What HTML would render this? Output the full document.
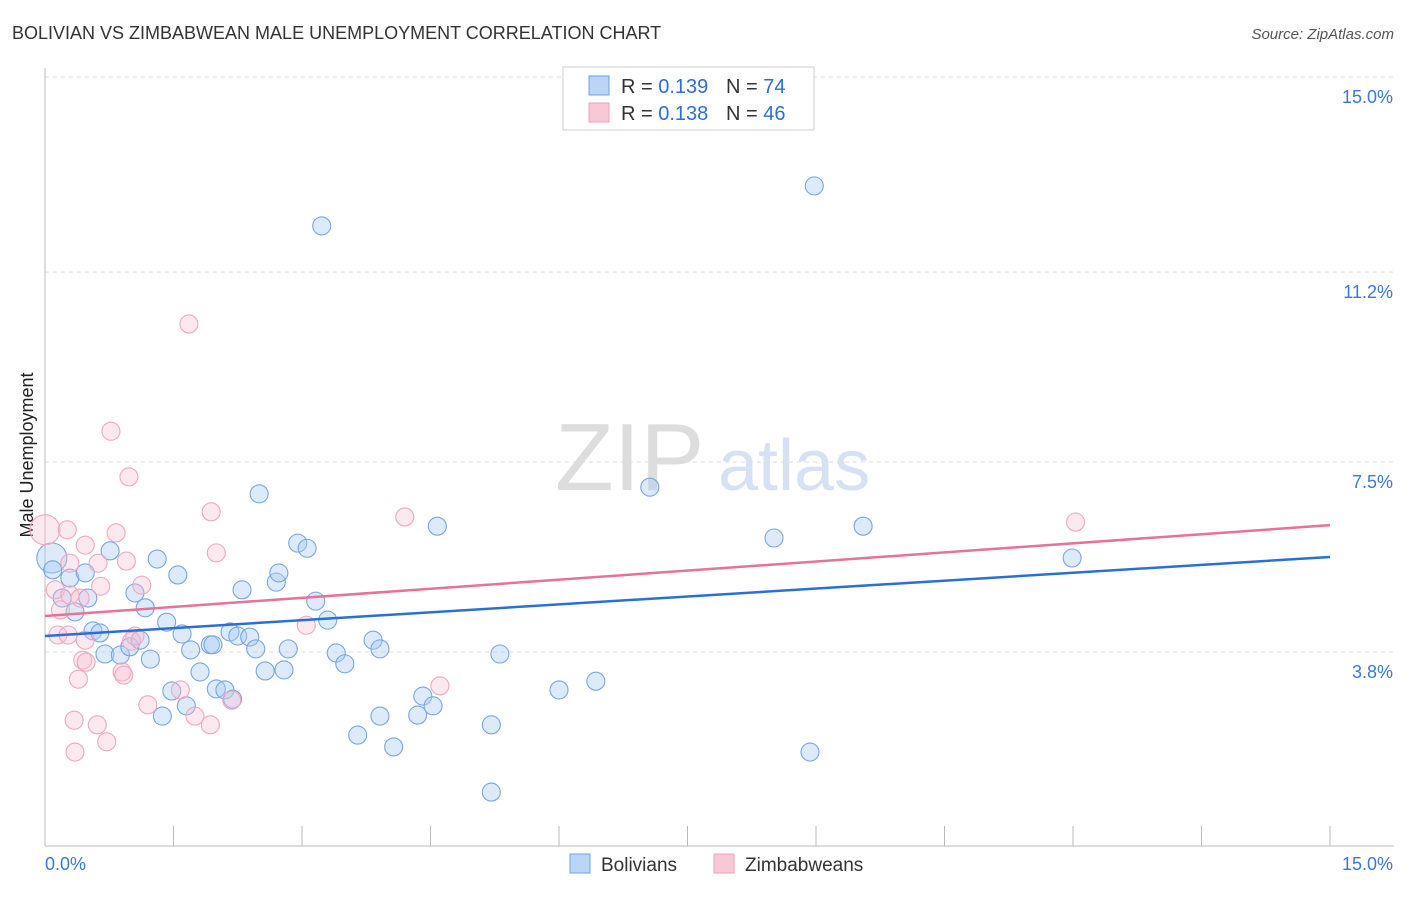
<!DOCTYPE html>
<html><head><meta charset="utf-8"><style>
body{margin:0;background:#fff;font-family:"Liberation Sans",sans-serif;}
svg text{font-family:"Liberation Sans",sans-serif;}
</style></head><body>
<svg id="chart" width="1406" height="892" viewBox="0 0 1406 892" xmlns="http://www.w3.org/2000/svg">
<text x="12" y="39" font-size="18" fill="#333">BOLIVIAN VS ZIMBABWEAN MALE UNEMPLOYMENT CORRELATION CHART</text>
<text x="1394" y="39" font-size="15" fill="#555" font-style="italic" text-anchor="end">Source: ZipAtlas.com</text>
<text transform="translate(33,455) rotate(-90)" font-size="18" fill="#222" text-anchor="middle">Male Unemployment</text>
<g>
<text x="555" y="490" font-size="96" fill="#ddd" font-family="Liberation Serif,serif">ZIP</text>
<text x="718" y="490" font-size="72" fill="#d6e2f3">atlas</text>
</g>
<g id="grid"></g><g id="axes"></g><g id="marks"></g>
<g>
<rect x="563" y="67" width="251" height="63" fill="#fff" stroke="#ccc"/>
<rect x="589" y="76" width="20" height="19" fill="#bcd4f5" stroke="#6fa0e0"/>
<text x="621" y="93" font-size="20" fill="#333">R = <tspan fill="#2a6fd6">0.139</tspan></text>
<text x="726" y="93" font-size="20" fill="#333">N = <tspan fill="#2a6fd6">74</tspan></text>
<rect x="589" y="103" width="20" height="19" fill="#f8c8d6" stroke="#eea0b8"/>
<text x="621" y="120" font-size="20" fill="#333">R = <tspan fill="#2a6fd6">0.138</tspan></text>
<text x="726" y="120" font-size="20" fill="#333">N = <tspan fill="#2a6fd6">46</tspan></text>
</g>
<g>
<rect x="570" y="854" width="20" height="19" fill="#bcd4f5" stroke="#6fa0e0"/>
<text x="601" y="871" font-size="19" fill="#333">Bolivians</text>
<rect x="714" y="854" width="20" height="19" fill="#f8c8d6" stroke="#eea0b8"/>
<text x="745" y="871" font-size="19" fill="#333">Zimbabweans</text>
</g>
</svg>
<script>
const yTicks=[3.8,7.5,11.2,15.0];
const yTickLabels=["3.8%","7.5%","11.2%","15.0%"];
const xTickLabels=["0.0%","15.0%"];
const bolX=[.08,.09,.29,.47,.20,.50,.35,.76,.56,.64,.70,.88,.99,1.11,1.05,1.17,1.23,1.31,1.42,1.55,1.60,1.48,1.65,1.37,1.70,1.81,1.93,1.96,2.00,2.10,2.16,2.19,2.30,2.25,2.39,2.46,2.50,2.57,2.70,2.73,2.79,2.84,2.95,3.06,3.16,3.30,3.40,3.50,3.23,3.65,3.83,3.91,3.91,4.07,4.35,4.41,4.53,4.58,5.21,5.21,5.31,6.00,6.43,7.06,8.51,8.98,8.93,9.55,11.99];
const bolY=[5.63,5.40,5.24,5.34,4.85,4.85,4.58,5.77,4.21,4.17,3.76,3.74,3.90,4.03,4.95,4.66,3.66,5.61,4.38,5.30,4.15,3.04,2.75,2.55,3.84,3.41,3.94,3.94,3.08,3.06,4.19,2.88,5.01,4.11,4.09,3.86,6.88,3.43,5.16,5.34,3.45,3.86,5.92,5.82,4.79,4.42,3.78,3.57,12.10,2.18,4.03,3.86,2.55,1.95,2.57,2.94,2.75,6.25,2.38,1.07,3.76,3.06,3.23,7.01,6.02,12.88,1.85,6.25,5.63];
const zimX=[.00,.26,.47,.29,.62,.12,.18,.29,.41,.15,.27,.47,.44,.48,.39,.34,.35,.61,.72,.65,.83,.95,.77,.98,1.13,1.01,1.05,.90,.92,1.20,1.58,1.75,1.93,2.18,1.68,1.94,2.00,3.05,4.20,4.61,12.03];
const zimY=[6.18,6.18,5.88,5.53,5.53,5.01,4.62,4.91,4.85,4.13,4.13,4.03,3.64,3.60,3.27,2.47,1.85,2.38,2.05,5.08,6.12,5.57,8.10,7.21,5.10,4.01,4.11,3.41,3.35,2.77,3.06,2.55,2.38,2.86,10.19,6.53,5.73,4.32,6.43,3.14,6.33];
const bolTrend=[4.11,5.65];
const zimTrend=[4.50,6.27];
const NS="http://www.w3.org/2000/svg";
const X0=45,X1=1330,Y0=847,YPX=51.33;
function sx(v){return X0+(X1-X0)*v/15;}
function sy(v){return Y0-v*YPX;}
function mk(tag,attrs,parent){const e=document.createElementNS(NS,tag);for(const k in attrs)e.setAttribute(k,attrs[k]);parent.appendChild(e);return e;}
const grid=document.getElementById('grid'),axes=document.getElementById('axes'),marks=document.getElementById('marks');
yTicks.forEach((t,i)=>{
 const l=mk('line',{x1:45,x2:1394,y1:sy(t),y2:sy(t),stroke:'#ddd','stroke-dasharray':'4,4'},grid);
 
 
 const tx=mk('text',{x:1393,y:sy(t)+26,'font-size':18,fill:'#3a78d8','text-anchor':'end'},axes);
 tx.textContent=yTickLabels[i];
 
 
});
const ax=mk('line',{x1:45,x2:1394,y1:846,y2:846,stroke:'#bbb'},axes);


const ay=mk('line',{x1:45,x2:45,y1:68,y2:846,stroke:'#bbb'},axes);


for(let i=1;i<=10;i++){
 const t=mk('line',{x1:sx(i*1.5),x2:sx(i*1.5),y1:826,y2:846,stroke:'#bbb'},axes);
 
 
}
const xl0=mk('text',{x:45,y:870,'font-size':18,fill:'#3a78d8'},axes);xl0.textContent=xTickLabels[0];


const xl1=mk('text',{x:1393,y:870,'font-size':18,fill:'#3a78d8','text-anchor':'end'},axes);xl1.textContent=xTickLabels[1];


function pts(xs,ys,fill,stroke,name){
 xs.forEach((x,i)=>{
  const r=(i===0&&x<0.1)?15:9;
  const c=mk('circle',{cx:sx(x),cy:sy(ys[i]),r:r,fill:fill,stroke:stroke,'stroke-width':1.1},marks);
  
  
 });
}
pts(bolX,bolY,'rgba(170,202,242,0.4)','#78a6e2','bolivian-point');
pts(zimX,zimY,'rgba(247,190,208,0.35)','#efa8be','zimbabwean-point');
const bl=mk('line',{x1:sx(0),x2:sx(15),y1:sy(bolTrend[0]),y2:sy(bolTrend[1]),stroke:'#2a6fd6','stroke-width':2.5},marks);


const zl=mk('line',{x1:sx(0),x2:sx(15),y1:sy(zimTrend[0]),y2:sy(zimTrend[1]),stroke:'#e8719a','stroke-width':2.5},marks);


</script>
</body></html>
